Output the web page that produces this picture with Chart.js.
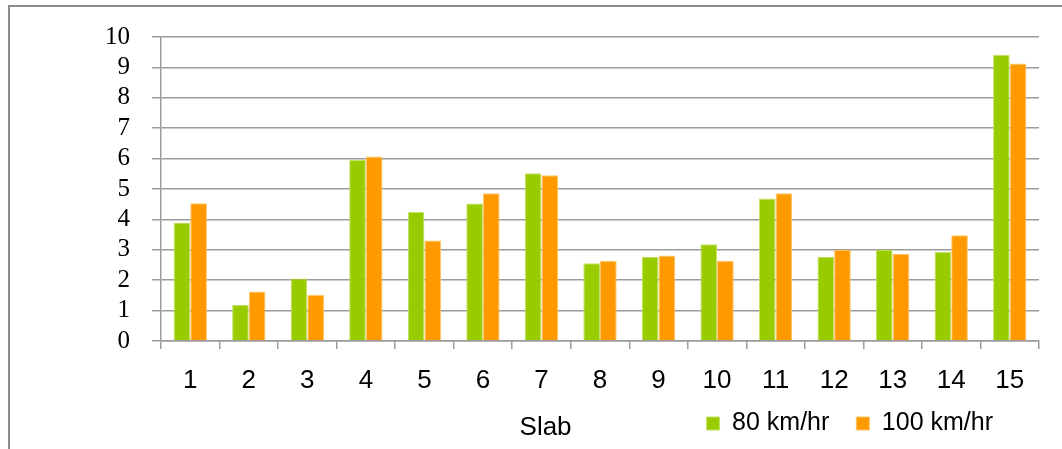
<!DOCTYPE html>
<html>
<head>
<meta charset="utf-8">
<script src="https://cdn.jsdelivr.net/npm/chart.js@4"></script>
<style>
  html, body { margin: 0; padding: 0; background: #ffffff; }
  #wrap { width: 1062px; height: 449px; }
</style>
</head>
<body>
<div id="wrap"><canvas id="c" width="1062" height="449"></canvas></div>
<script>
// Slab numbers on the category axis
const slabs = ['1', '2', '3', '4', '5', '6', '7', '8', '9', '10', '11', '12', '13', '14', '15'];
// Values per slab for each speed
const speed80 = [3.90, 1.19, 2.06, 5.95, 4.24, 4.52, 5.52, 2.56, 2.77, 3.18, 4.69, 2.77, 3.00, 2.93, 9.42];
const speed100 = [4.53, 1.63, 1.52, 6.07, 3.31, 4.86, 5.45, 2.64, 2.81, 2.64, 4.86, 3.00, 2.86, 3.48, 9.13];
const seriesNames = ['80 km/hr', '100 km/hr'];
const axisTitle = 'Slab';
const yMin = 0, yMax = 10, yStep = 1;

const GRID = '#9c9c9c';
const SANS = '"Liberation Sans", Arial, sans-serif';
const SERIF = '"Liberation Serif", "Times New Roman", serif';

// Grey frame along the top and left edges
const framePlugin = {
  id: 'frame',
  beforeDraw(chart) {
    const ctx = chart.ctx;
    ctx.save();
    ctx.strokeStyle = '#8c8c8c';
    ctx.lineWidth = 2;
    ctx.beginPath();
    ctx.moveTo(9, chart.height);
    ctx.lineTo(9, 6);
    ctx.lineTo(chart.width, 6);
    ctx.stroke();
    ctx.restore();
  }
};

// Keeps the legend to the right part of the bottom row, leaving room for the axis title,
// and lets the category labels use the space below the compact x axis box
const legendSpot = {
  id: 'legendSpot',
  afterLayout(chart) {
    const lg = chart.legend;
    if (lg) {
      lg.right = chart.chartArea.right - 19;
      lg.width = lg.right - lg.left;
    }
    const x = chart.scales.x;
    x.bottom = chart.height;
    x.height = x.bottom - x.top;
  }
};

// Axis title drawn on the same row as the legend
const axisTitlePlugin = {
  id: 'axisTitleRow',
  afterDraw(chart) {
    const ctx = chart.ctx;
    const a = chart.chartArea;
    const lg = chart.legend;
    ctx.save();
    ctx.font = '26px ' + SANS;
    ctx.fillStyle = '#000';
    ctx.textAlign = 'center';
    ctx.textBaseline = 'middle';
    const y = lg ? (lg.top + 27 + 12.5 + 4) : a.bottom + 86;
    ctx.fillText(axisTitle, a.left + (a.right - a.left) * 0.438, y);
    ctx.restore();
  }
};

new Chart(document.getElementById('c'), {
  type: 'bar',
  data: {
    labels: slabs,
    datasets: [
      {
        label: seriesNames[0],
        data: speed80,
        backgroundColor: '#99cc00',
        borderColor: '#c4e266',
        borderWidth: 1,
        categoryPercentage: 0.57,
        barPercentage: 1.0
      },
      {
        label: seriesNames[1],
        data: speed100,
        backgroundColor: '#ff9900',
        borderColor: '#ffc466',
        borderWidth: 1,
        categoryPercentage: 0.57,
        barPercentage: 1.0
      }
    ]
  },
  options: {
    responsive: false,
    animation: false,
    layout: { padding: { left: 0, right: 23, top: 35, bottom: 3 } },
    plugins: {
      title: { display: false },
      tooltip: { enabled: false },
      legend: {
        position: 'bottom',
        align: 'end',
        labels: {
          font: { family: SANS, size: 25 },
          color: '#000',
          boxWidth: 13,
          boxHeight: 13,
          padding: 27
        }
      }
    },
    scales: {
      x: {
        offset: true,
        grid: {
          display: true,
          offset: true,
          drawOnChartArea: false,
          drawTicks: true,
          tickLength: 8,
          color: GRID,
          lineWidth: 1.5
        },
        border: { display: true, color: GRID, width: 1.5 },
        ticks: {
          font: { family: SANS, size: 26 },
          color: '#000',
          padding: 16,
          maxRotation: 0,
          autoSkip: false
        },
        afterFit(scale) { scale.height = 43; }
      },
      y: {
        min: yMin,
        max: yMax,
        grid: {
          color: GRID,
          lineWidth: 1.5,
          drawTicks: true,
          tickLength: 9
        },
        border: { display: true, color: GRID, width: 1.5 },
        ticks: {
          stepSize: yStep,
          autoSkip: false,
          font: { family: SERIF, size: 25 },
          color: '#000',
          padding: 22
        },
        afterFit(scale) { scale.width = 161; }
      }
    }
  },
  plugins: [framePlugin, legendSpot, axisTitlePlugin]
});
</script>
</body>
</html>
